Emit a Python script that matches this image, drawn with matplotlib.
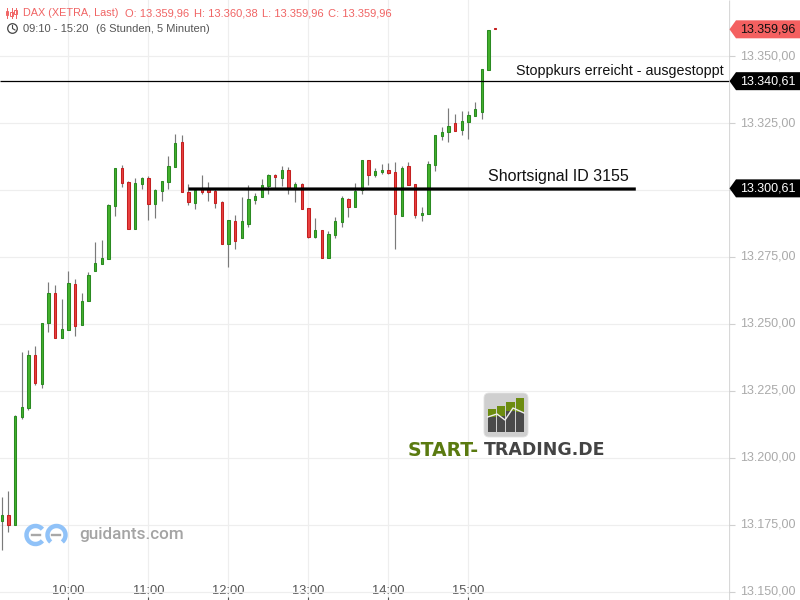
import matplotlib
matplotlib.use("Agg")
import numpy as np
import matplotlib.pyplot as plt
import matplotlib.patheffects as pe
from matplotlib.patches import Arc, Circle, FancyBboxPatch, Polygon, Rectangle

plt.rcParams["font.family"] = ["Liberation Sans", "DejaVu Sans"]

# 5 minute candles from 09:10 on
opens = [13176.5, 13178.6, 13175.1, 13215.4, 13218.7, 13238.3, 13227.7, 13250.5, 13261.5, 13244.9,
         13247.9, 13264.8, 13249.7, 13258.7, 13269.9, 13272.5, 13274.4, 13294.1, 13308.1, 13302.9,
         13285.6, 13302.4, 13304.4, 13294.9, 13299.7, 13303.1, 13308.6, 13317.8, 13299.1, 13295.3,
         13300.2, 13300.2, 13299.6, 13295.4, 13280.0, 13288.3, 13282.2, 13287.4, 13296.4, 13297.5,
         13301.6, 13305.5, 13304.6, 13307.4, 13300.8, 13302.1, 13293.2, 13282.6, 13285.0, 13274.7,
         13283.3, 13288.2, 13296.5, 13293.8, 13300.0, 13311.1, 13305.7, 13306.8, 13307.4, 13306.6,
         13290.4, 13308.8, 13302.1, 13290.8, 13291.2, 13309.4, 13320.3, 13321.8, 13325.1, 13322.5,
         13325.5, 13327.7, 13329.2, 13344.9, 13360.3]
highs = [13185.6, 13187.7, 13216.1, 13239.4, 13240.3, 13241.8, 13250.4, 13265.7, 13264.6, 13259.3,
         13269.8, 13266.8, 13261.5, 13269.4, 13280.6, 13281.3, 13294.8, 13308.1, 13309.3, 13303.3,
         13304.4, 13304.7, 13305.2, 13300.3, 13303.3, 13312.7, 13320.9, 13320.5, 13302.2, 13300.7,
         13305.6, 13303.0, 13300.4, 13295.9, 13288.7, 13290.7, 13297.4, 13301.9, 13298.8, 13304.0,
         13305.9, 13306.0, 13309.0, 13308.6, 13303.0, 13302.6, 13293.2, 13289.6, 13285.0, 13284.6,
         13289.8, 13297.8, 13297.0, 13302.5, 13311.1, 13311.1, 13308.1, 13309.6, 13310.0, 13310.3,
         13308.8, 13310.3, 13302.1, 13293.7, 13310.7, 13320.4, 13323.4, 13330.5, 13328.2, 13329.4,
         13329.4, 13332.7, 13345.0, 13359.6, 13360.38]
lows = [13165.7, 13172.5, 13175.1, 13214.7, 13217.9, 13227.4, 13226.2, 13247.0, 13244.9, 13244.9,
        13247.9, 13245.5, 13249.7, 13258.7, 13269.9, 13272.5, 13274.4, 13290.4, 13301.2, 13285.6,
        13285.6, 13300.5, 13288.9, 13289.7, 13296.0, 13300.5, 13308.6, 13299.1, 13294.4, 13292.9,
        13298.6, 13295.9, 13293.3, 13280.0, 13271.4, 13278.0, 13282.2, 13286.3, 13294.8, 13297.5,
        13298.5, 13300.4, 13301.5, 13298.5, 13295.5, 13293.0, 13282.2, 13282.2, 13274.7, 13274.7,
        13282.2, 13286.3, 13290.0, 13293.8, 13298.6, 13302.0, 13305.0, 13306.1, 13306.1, 13278.1,
        13290.4, 13302.0, 13289.7, 13288.6, 13291.2, 13307.2, 13318.8, 13318.0, 13322.1, 13320.6,
        13319.1, 13327.7, 13326.6, 13344.9, 13359.96]
closes = [13178.6, 13175.1, 13215.7, 13218.9, 13238.3, 13228.0, 13250.3, 13261.5, 13244.9, 13248.0,
          13265.2, 13249.4, 13258.5, 13268.2, 13272.7, 13274.5, 13294.3, 13308.1, 13302.7, 13285.6,
          13302.5, 13304.4, 13294.9, 13299.9, 13303.3, 13308.8, 13317.5, 13299.1, 13295.6, 13300.0,
          13299.4, 13299.4, 13295.3, 13280.0, 13288.7, 13281.1, 13288.3, 13296.5, 13297.7, 13301.8,
          13305.5, 13304.9, 13307.4, 13300.8, 13302.1, 13293.0, 13282.6, 13285.0, 13274.7, 13283.5,
          13288.3, 13296.9, 13293.8, 13299.6, 13311.1, 13305.7, 13307.0, 13307.4, 13306.5, 13291.2,
          13308.1, 13302.0, 13290.8, 13291.4, 13309.6, 13320.4, 13321.5, 13323.8, 13322.1, 13325.6,
          13327.9, 13330.1, 13345.0, 13359.6, 13359.96]

time_ticks = [10, 22, 34, 46, 58, 70]
time_labels = ["10:00", "11:00", "12:00", "13:00", "14:00", "15:00"]
price_ticks = [13150, 13175, 13200, 13225, 13250, 13275, 13300, 13325, 13350]

last_price = 13359.96
stop_price = 13340.61
short_price = 13300.61

RED_TEXT = "#f06464"
GRID = "#eeeeee"


def de_price(value):
    return f"{value:,.2f}".replace(",", "#").replace(".", ",").replace("#", ".")


fig = plt.figure(figsize=(8, 6), dpi=100)
ax = fig.add_axes([0, 0, 729 / 800, 1])
side = fig.add_axes([729 / 800, 0, 71 / 800, 1])
ov = fig.add_axes([0, 0, 1, 1], zorder=-1)
top = fig.add_axes([0, 0, 1, 1], zorder=5)

ylim = (13147.0, 13370.9)
ax.set_xlim(-0.27, 109.08)
ax.set_ylim(*ylim)
side.set_xlim(0, 71)
side.set_ylim(*ylim)
ax.patch.set_alpha(0)
side.patch.set_alpha(0)
top.patch.set_alpha(0)

for a in (ov, top):
    a.set_xlim(0, 800)
    a.set_ylim(600, 0)
    a.axis("off")

# grid and axes
ax.set_xticks(time_ticks, time_labels)
ax.set_yticks(price_ticks)
ax.grid(color=GRID, lw=0.85)
ax.set_axisbelow(True)
ax.tick_params(axis="x", direction="in", pad=-10.5, length=2.5, color="#555555",
               labelcolor="#555555", labelsize=9.3)
ax.tick_params(axis="y", left=False, labelleft=False)
for s in ax.spines.values():
    s.set_visible(False)

side.axis("off")
side.vlines(0, *ylim, color="#d8d8d8", lw=0.9)
side.hlines(price_ticks, 0, 6, color="#d0d0d0", lw=0.8)
for p in price_ticks:
    # the 13.300,00 label sits behind the short signal tag
    if p == 13300:
        continue
    side.text(38.5, p, de_price(p), ha="center", va="center", color="#aaaaaa", fontsize=9.0)

# candles
x = np.arange(len(opens))
o = np.array(opens)
c = np.array(closes)
up = c >= o
ax.vlines(x, lows, highs, color="#7a7a7a", lw=0.85, zorder=2)
ax.bar(x[up], np.maximum(c[up] - o[up], 0.3), bottom=o[up], width=0.32,
       color="#44b02c", edgecolor="#2a8a22", lw=0.75, zorder=3)
ax.bar(x[~up], np.maximum(o[~up] - c[~up], 0.3), bottom=c[~up], width=0.32,
       color="#e94040", edgecolor="#c42020", lw=0.75, zorder=3)

# drawn lines
ax.hlines(stop_price, -0.27, 109.08, color="black", lw=0.9, zorder=4)
short_line = ax.hlines(short_price - 0.25, 28, 95.1, color="black", lw=2.3, zorder=4)
short_line.set_snap(False)
ax.text(108.2, stop_price + 1.0, "Stoppkurs erreicht - ausgestoppt", ha="right", va="bottom",
        fontsize=10.25, color="#111111", zorder=5)
ax.text(94, short_price + 1.6, "Shortsignal ID 3155", ha="right", va="bottom",
        fontsize=11.5, color="#111111", zorder=5)


# price tags on the right
def price_tag(price, face, text_color):
    half = 9 * (ylim[1] - ylim[0]) / 600
    pts = [(0.5, price), (7, price + half), (71, price + half), (71, price - half), (7, price - half)]
    side.add_patch(Polygon(pts, closed=True, facecolor=face, edgecolor="none", zorder=6))
    side.text(38.5, price, de_price(price), ha="center", va="center", color=text_color,
              fontsize=9.0, zorder=7)


price_tag(last_price, "#f46060", "#111111")
price_tag(stop_price, "black", "white")
price_tag(short_price, "black", "white")

# header text
top.text(23, 13, "DAX (XETRA, Last)", color=RED_TEXT, fontsize=7.8, va="center", ha="left")
header = [(125, "O: 13.359,96"), (194, "H: 13.360,38"), (262, "L: 13.359,96"), (328, "C: 13.359,96")]
for px, txt in header:
    top.text(px, 13, txt, color=RED_TEXT, fontsize=8.0, va="center", ha="left")
top.text(23, 29, "09:10 - 15:20", color="#555555", fontsize=8.0, va="center", ha="left")
top.text(96, 29, "(6 Stunden, 5 Minuten)", color="#555555", fontsize=8.0, va="center", ha="left")

# small candle icon and clock
for px, y0, y1, b0, b1 in [(7, 8, 18, 11, 15), (11.5, 8, 18, 12, 16), (15.5, 8, 18, 10, 14)]:
    top.plot([px, px], [y0, y1], color=RED_TEXT, lw=0.7)
    top.add_patch(Rectangle((px - 1.3, b0), 2.6, b1 - b0, fc="white", ec=RED_TEXT, lw=0.7))
top.add_patch(Circle((12.5, 28.5), 4.8, fc="none", ec="#444444", lw=0.9))
top.plot([12.5, 12.5, 15], [25.5, 28.5, 30], color="#444444", lw=0.8)

# guidants logo
BLUE = "#90c2f8"
top.add_patch(Arc((35.5, 535), 18, 18, theta1=40, theta2=320, color=BLUE, lw=3.2))
top.add_patch(Arc((56.5, 535), 18, 18, theta1=130, theta2=410, color=BLUE, lw=3.2))
top.plot([32, 40], [535, 535], color="#a8a8a8", lw=1.7)
top.plot([52, 60], [535, 535], color="#a8a8a8", lw=1.7)
top.text(79, 535, "guidants.com", color="#a4a4a4", fontsize=12.3, family="Roboto",
         fontweight="medium", va="center", ha="left")

# start-trading logo
top.add_patch(FancyBboxPatch((486, 395), 40, 40, boxstyle="round,pad=2,rounding_size=5",
                             fc="#cfcfcf", ec="#e2e2e2", lw=0.6))
bar_x = [487.7, 497, 506.3, 515.7]
bar_top = [409, 406, 402.3, 398.3]
bar_mid = [417, 416, 411, 412]
for bx, bt, bm in zip(bar_x, bar_top, bar_mid):
    top.add_patch(Rectangle((bx, bt), 8.3, bm - bt, fc="#6c8c10", ec="none"))
    top.add_patch(Rectangle((bx, bm), 8.3, 431.7 - bm, fc="#4a4a4a", ec="none"))
top.plot([487.7, 497, 505, 513, 524], [417, 414, 420, 408, 413], color="#eeeeee", lw=1)
top.text(408, 450, "START-", color="#5a7a10", fontsize=13.6, family="DejaVu Sans",
         fontweight="bold", va="center", ha="left")
top.text(483.5, 450, "TRADING.DE", color="#444444", fontsize=12.5, family="DejaVu Sans",
         fontweight="bold", va="center", ha="left")

fig.savefig("out.png", dpi=100)
